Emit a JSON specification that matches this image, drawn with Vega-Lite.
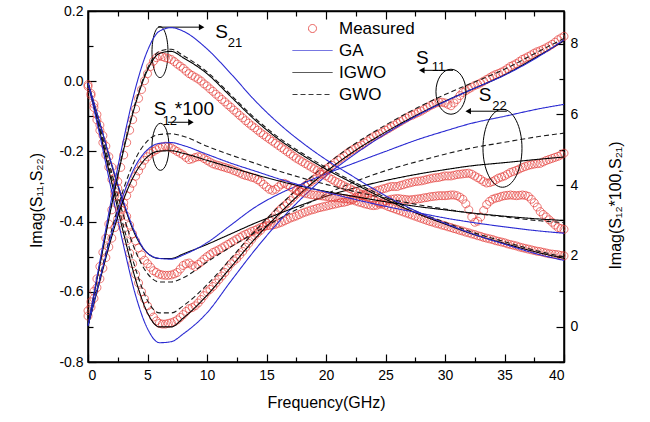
{
"$schema":"https://vega.github.io/schema/vega-lite/v6.json",
"width":476,"height":351,
"autosize":{"type":"none"},
"padding":{"left":88,"top":11,"right":86,"bottom":60},
"background":"white",
"config":{
 "font":"Liberation Sans",
 "view":{"stroke":"black","strokeWidth":1.5},
 "axis":{"labelFont":"Liberation Sans","labelFontSize":14,"labelColor":"black","titleFont":"Liberation Sans","titleFontSize":16,"titleFontWeight":"normal","titleColor":"black","domainColor":"black","domainWidth":1.5,"tickColor":"black","tickWidth":1.2,"grid":false},
 "legend":{"orient":"none","legendX":214,"legendY":7,"symbolSize":400,"labelFontSize":17,"labelFont":"Liberation Sans","labelColor":"black","labelOffset":16,"rowPadding":3,"symbolStrokeWidth":1,"padding":0}
},
"datasets":{
"meas":[
{"f":0,"p":"S11","m":"Measured","v":-0.015},{"f":0.25,"p":"S11","m":"Measured","v":-0.04},{"f":0.5,"p":"S11","m":"Measured","v":-0.075},{"f":0.75,"p":"S11","m":"Measured","v":-0.11},{"f":1,"p":"S11","m":"Measured","v":-0.14},{"f":1.25,"p":"S11","m":"Measured","v":-0.175},{"f":1.5,"p":"S11","m":"Measured","v":-0.21},{"f":1.75,"p":"S11","m":"Measured","v":-0.245},{"f":2,"p":"S11","m":"Measured","v":-0.28},{"f":2.25,"p":"S11","m":"Measured","v":-0.315},{"f":2.5,"p":"S11","m":"Measured","v":-0.35},{"f":2.75,"p":"S11","m":"Measured","v":-0.385},{"f":3,"p":"S11","m":"Measured","v":-0.42},{"f":3.25,"p":"S11","m":"Measured","v":-0.455},{"f":3.5,"p":"S11","m":"Measured","v":-0.49},{"f":3.75,"p":"S11","m":"Measured","v":-0.52},{"f":4,"p":"S11","m":"Measured","v":-0.55},{"f":4.25,"p":"S11","m":"Measured","v":-0.575},{"f":4.5,"p":"S11","m":"Measured","v":-0.6},{"f":4.75,"p":"S11","m":"Measured","v":-0.62},{"f":5,"p":"S11","m":"Measured","v":-0.64},{"f":5.25,"p":"S11","m":"Measured","v":-0.657},{"f":5.5,"p":"S11","m":"Measured","v":-0.672},{"f":5.75,"p":"S11","m":"Measured","v":-0.683},{"f":6,"p":"S11","m":"Measured","v":-0.69},
{"f":6.25,"p":"S11","m":"Measured","v":-0.692},{"f":6.5,"p":"S11","m":"Measured","v":-0.692},{"f":6.75,"p":"S11","m":"Measured","v":-0.69},{"f":7,"p":"S11","m":"Measured","v":-0.688},{"f":7.25,"p":"S11","m":"Measured","v":-0.685},{"f":7.5,"p":"S11","m":"Measured","v":-0.68},{"f":7.75,"p":"S11","m":"Measured","v":-0.673},{"f":8,"p":"S11","m":"Measured","v":-0.665},{"f":8.25,"p":"S11","m":"Measured","v":-0.656},{"f":8.5,"p":"S11","m":"Measured","v":-0.648},{"f":8.75,"p":"S11","m":"Measured","v":-0.645},{"f":9,"p":"S11","m":"Measured","v":-0.64},{"f":9.25,"p":"S11","m":"Measured","v":-0.632},{"f":9.5,"p":"S11","m":"Measured","v":-0.622},{"f":9.75,"p":"S11","m":"Measured","v":-0.611},{"f":10,"p":"S11","m":"Measured","v":-0.6},{"f":10.25,"p":"S11","m":"Measured","v":-0.593},{"f":10.5,"p":"S11","m":"Measured","v":-0.585},{"f":10.75,"p":"S11","m":"Measured","v":-0.575},{"f":11,"p":"S11","m":"Measured","v":-0.565},{"f":11.25,"p":"S11","m":"Measured","v":-0.555},{"f":11.5,"p":"S11","m":"Measured","v":-0.545},{"f":11.75,"p":"S11","m":"Measured","v":-0.532},{"f":12,"p":"S11","m":"Measured","v":-0.52},{"f":12.25,"p":"S11","m":"Measured","v":-0.512},{"f":12.5,"p":"S11","m":"Measured","v":-0.505},{"f":12.75,"p":"S11","m":"Measured","v":-0.495},{"f":13,"p":"S11","m":"Measured","v":-0.485},{"f":13.25,"p":"S11","m":"Measured","v":-0.473},{"f":13.5,"p":"S11","m":"Measured","v":-0.462},{"f":13.75,"p":"S11","m":"Measured","v":-0.451},{"f":14,"p":"S11","m":"Measured","v":-0.44},{"f":14.25,"p":"S11","m":"Measured","v":-0.432},{"f":14.5,"p":"S11","m":"Measured","v":-0.425},{"f":14.75,"p":"S11","m":"Measured","v":-0.415},{"f":15,"p":"S11","m":"Measured","v":-0.405},{"f":15.25,"p":"S11","m":"Measured","v":-0.398},{"f":15.5,"p":"S11","m":"Measured","v":-0.39},{"f":15.75,"p":"S11","m":"Measured","v":-0.38},{"f":16,"p":"S11","m":"Measured","v":-0.37},{"f":16.25,"p":"S11","m":"Measured","v":-0.362},{"f":16.5,"p":"S11","m":"Measured","v":-0.355},{"f":16.75,"p":"S11","m":"Measured","v":-0.348},{"f":17,"p":"S11","m":"Measured","v":-0.34},{"f":17.25,"p":"S11","m":"Measured","v":-0.331},{"f":17.5,"p":"S11","m":"Measured","v":-0.322},{"f":17.75,"p":"S11","m":"Measured","v":-0.313},{"f":18,"p":"S11","m":"Measured","v":-0.305},{"f":18.25,"p":"S11","m":"Measured","v":-0.298},{"f":18.5,"p":"S11","m":"Measured","v":-0.292},{"f":18.75,"p":"S11","m":"Measured","v":-0.286},{"f":19,"p":"S11","m":"Measured","v":-0.28},{"f":19.25,"p":"S11","m":"Measured","v":-0.272},{"f":19.5,"p":"S11","m":"Measured","v":-0.265},{"f":19.75,"p":"S11","m":"Measured","v":-0.257},{"f":20,"p":"S11","m":"Measured","v":-0.25},{"f":20.25,"p":"S11","m":"Measured","v":-0.245},{"f":20.5,"p":"S11","m":"Measured","v":-0.24},{"f":20.75,"p":"S11","m":"Measured","v":-0.232},{"f":21,"p":"S11","m":"Measured","v":-0.225},{"f":21.25,"p":"S11","m":"Measured","v":-0.219},{"f":21.5,"p":"S11","m":"Measured","v":-0.213},{"f":21.75,"p":"S11","m":"Measured","v":-0.206},{"f":22,"p":"S11","m":"Measured","v":-0.2},{"f":22.25,"p":"S11","m":"Measured","v":-0.195},{"f":22.5,"p":"S11","m":"Measured","v":-0.19},{"f":22.75,"p":"S11","m":"Measured","v":-0.186},{"f":23,"p":"S11","m":"Measured","v":-0.182},{"f":23.25,"p":"S11","m":"Measured","v":-0.176},{"f":23.5,"p":"S11","m":"Measured","v":-0.17},{"f":23.75,"p":"S11","m":"Measured","v":-0.164},{"f":24,"p":"S11","m":"Measured","v":-0.158},{"f":24.25,"p":"S11","m":"Measured","v":-0.154},{"f":24.5,"p":"S11","m":"Measured","v":-0.15},{"f":24.75,"p":"S11","m":"Measured","v":-0.145},{"f":25,"p":"S11","m":"Measured","v":-0.14},{"f":25.25,"p":"S11","m":"Measured","v":-0.135},{"f":25.5,"p":"S11","m":"Measured","v":-0.13},{"f":25.75,"p":"S11","m":"Measured","v":-0.125},{"f":26,"p":"S11","m":"Measured","v":-0.12},{"f":26.25,"p":"S11","m":"Measured","v":-0.115},{"f":26.5,"p":"S11","m":"Measured","v":-0.11},{"f":26.75,"p":"S11","m":"Measured","v":-0.105},{"f":27,"p":"S11","m":"Measured","v":-0.1},{"f":27.25,"p":"S11","m":"Measured","v":-0.097},{"f":27.5,"p":"S11","m":"Measured","v":-0.093},{"f":27.75,"p":"S11","m":"Measured","v":-0.089},{"f":28,"p":"S11","m":"Measured","v":-0.085},{"f":28.25,"p":"S11","m":"Measured","v":-0.08},{"f":28.5,"p":"S11","m":"Measured","v":-0.075},{"f":28.75,"p":"S11","m":"Measured","v":-0.07},{"f":29,"p":"S11","m":"Measured","v":-0.066},{"f":29.25,"p":"S11","m":"Measured","v":-0.062},{"f":29.5,"p":"S11","m":"Measured","v":-0.06},{"f":29.75,"p":"S11","m":"Measured","v":-0.06},{"f":30,"p":"S11","m":"Measured","v":-0.062},{"f":30.25,"p":"S11","m":"Measured","v":-0.066},{"f":30.5,"p":"S11","m":"Measured","v":-0.07},{"f":30.75,"p":"S11","m":"Measured","v":-0.062},{"f":31,"p":"S11","m":"Measured","v":-0.052},{"f":31.25,"p":"S11","m":"Measured","v":-0.041},{"f":31.5,"p":"S11","m":"Measured","v":-0.032},{"f":31.75,"p":"S11","m":"Measured","v":-0.027},{"f":32,"p":"S11","m":"Measured","v":-0.022},{"f":32.25,"p":"S11","m":"Measured","v":-0.017},{"f":32.5,"p":"S11","m":"Measured","v":-0.012},{"f":32.75,"p":"S11","m":"Measured","v":-0.009},{"f":33,"p":"S11","m":"Measured","v":-0.005},{"f":33.25,"p":"S11","m":"Measured","v":0.0},{"f":33.5,"p":"S11","m":"Measured","v":0.005},{"f":33.75,"p":"S11","m":"Measured","v":0.01},{"f":34,"p":"S11","m":"Measured","v":0.015},{"f":34.25,"p":"S11","m":"Measured","v":0.019},{"f":34.5,"p":"S11","m":"Measured","v":0.022},{"f":34.75,"p":"S11","m":"Measured","v":0.026},{"f":35,"p":"S11","m":"Measured","v":0.03},{"f":35.25,"p":"S11","m":"Measured","v":0.036},{"f":35.5,"p":"S11","m":"Measured","v":0.042},{"f":35.75,"p":"S11","m":"Measured","v":0.046},{"f":36,"p":"S11","m":"Measured","v":0.05},{"f":36.25,"p":"S11","m":"Measured","v":0.056},{"f":36.5,"p":"S11","m":"Measured","v":0.062},{"f":36.75,"p":"S11","m":"Measured","v":0.066},{"f":37,"p":"S11","m":"Measured","v":0.07},{"f":37.25,"p":"S11","m":"Measured","v":0.075},{"f":37.5,"p":"S11","m":"Measured","v":0.08},{"f":37.75,"p":"S11","m":"Measured","v":0.084},{"f":38,"p":"S11","m":"Measured","v":0.087},{"f":38.25,"p":"S11","m":"Measured","v":0.091},{"f":38.5,"p":"S11","m":"Measured","v":0.095},{"f":38.75,"p":"S11","m":"Measured","v":0.1},{"f":39,"p":"S11","m":"Measured","v":0.105},{"f":39.25,"p":"S11","m":"Measured","v":0.111},{"f":39.5,"p":"S11","m":"Measured","v":0.118},{"f":39.75,"p":"S11","m":"Measured","v":0.123},{"f":40,"p":"S11","m":"Measured","v":0.128},
{"f":0,"p":"S22","m":"Measured","v":-0.01},{"f":0.25,"p":"S22","m":"Measured","v":-0.035},{"f":0.5,"p":"S22","m":"Measured","v":-0.065},{"f":0.75,"p":"S22","m":"Measured","v":-0.095},{"f":1,"p":"S22","m":"Measured","v":-0.125},{"f":1.25,"p":"S22","m":"Measured","v":-0.155},{"f":1.5,"p":"S22","m":"Measured","v":-0.185},{"f":1.75,"p":"S22","m":"Measured","v":-0.215},{"f":2,"p":"S22","m":"Measured","v":-0.245},{"f":2.25,"p":"S22","m":"Measured","v":-0.275},{"f":2.5,"p":"S22","m":"Measured","v":-0.305},{"f":2.75,"p":"S22","m":"Measured","v":-0.33},{"f":3,"p":"S22","m":"Measured","v":-0.36},{"f":3.25,"p":"S22","m":"Measured","v":-0.385},{"f":3.5,"p":"S22","m":"Measured","v":-0.41},{"f":3.75,"p":"S22","m":"Measured","v":-0.435},{"f":4,"p":"S22","m":"Measured","v":-0.455},{"f":4.25,"p":"S22","m":"Measured","v":-0.475},{"f":4.5,"p":"S22","m":"Measured","v":-0.495},{"f":4.75,"p":"S22","m":"Measured","v":-0.51},{"f":5,"p":"S22","m":"Measured","v":-0.52},{"f":5.25,"p":"S22","m":"Measured","v":-0.53},{"f":5.5,"p":"S22","m":"Measured","v":-0.54},{"f":5.75,"p":"S22","m":"Measured","v":-0.545},{"f":6,"p":"S22","m":"Measured","v":-0.55},
{"f":6.25,"p":"S22","m":"Measured","v":-0.552},{"f":6.5,"p":"S22","m":"Measured","v":-0.553},{"f":6.75,"p":"S22","m":"Measured","v":-0.553},{"f":7,"p":"S22","m":"Measured","v":-0.552},{"f":7.25,"p":"S22","m":"Measured","v":-0.549},{"f":7.5,"p":"S22","m":"Measured","v":-0.545},{"f":7.75,"p":"S22","m":"Measured","v":-0.535},{"f":8,"p":"S22","m":"Measured","v":-0.525},{"f":8.25,"p":"S22","m":"Measured","v":-0.52},{"f":8.5,"p":"S22","m":"Measured","v":-0.518},{"f":8.75,"p":"S22","m":"Measured","v":-0.524},{"f":9,"p":"S22","m":"Measured","v":-0.528},{"f":9.25,"p":"S22","m":"Measured","v":-0.522},{"f":9.5,"p":"S22","m":"Measured","v":-0.515},{"f":9.75,"p":"S22","m":"Measured","v":-0.507},{"f":10,"p":"S22","m":"Measured","v":-0.5},{"f":10.25,"p":"S22","m":"Measured","v":-0.494},{"f":10.5,"p":"S22","m":"Measured","v":-0.488},{"f":10.75,"p":"S22","m":"Measured","v":-0.484},{"f":11,"p":"S22","m":"Measured","v":-0.48},{"f":11.25,"p":"S22","m":"Measured","v":-0.475},{"f":11.5,"p":"S22","m":"Measured","v":-0.47},{"f":11.75,"p":"S22","m":"Measured","v":-0.465},{"f":12,"p":"S22","m":"Measured","v":-0.46},{"f":12.25,"p":"S22","m":"Measured","v":-0.455},{"f":12.5,"p":"S22","m":"Measured","v":-0.45},{"f":12.75,"p":"S22","m":"Measured","v":-0.445},{"f":13,"p":"S22","m":"Measured","v":-0.44},{"f":13.25,"p":"S22","m":"Measured","v":-0.436},{"f":13.5,"p":"S22","m":"Measured","v":-0.432},{"f":13.75,"p":"S22","m":"Measured","v":-0.428},{"f":14,"p":"S22","m":"Measured","v":-0.425},{"f":14.25,"p":"S22","m":"Measured","v":-0.421},{"f":14.5,"p":"S22","m":"Measured","v":-0.417},{"f":14.75,"p":"S22","m":"Measured","v":-0.414},{"f":15,"p":"S22","m":"Measured","v":-0.412},{"f":15.25,"p":"S22","m":"Measured","v":-0.411},{"f":15.5,"p":"S22","m":"Measured","v":-0.41},{"f":15.75,"p":"S22","m":"Measured","v":-0.408},{"f":16,"p":"S22","m":"Measured","v":-0.405},{"f":16.25,"p":"S22","m":"Measured","v":-0.402},{"f":16.5,"p":"S22","m":"Measured","v":-0.398},{"f":16.75,"p":"S22","m":"Measured","v":-0.394},{"f":17,"p":"S22","m":"Measured","v":-0.39},{"f":17.25,"p":"S22","m":"Measured","v":-0.387},{"f":17.5,"p":"S22","m":"Measured","v":-0.384},{"f":17.75,"p":"S22","m":"Measured","v":-0.38},{"f":18,"p":"S22","m":"Measured","v":-0.376},{"f":18.25,"p":"S22","m":"Measured","v":-0.373},{"f":18.5,"p":"S22","m":"Measured","v":-0.37},{"f":18.75,"p":"S22","m":"Measured","v":-0.367},{"f":19,"p":"S22","m":"Measured","v":-0.365},{"f":19.25,"p":"S22","m":"Measured","v":-0.362},{"f":19.5,"p":"S22","m":"Measured","v":-0.36},{"f":19.75,"p":"S22","m":"Measured","v":-0.358},{"f":20,"p":"S22","m":"Measured","v":-0.356},{"f":20.25,"p":"S22","m":"Measured","v":-0.354},{"f":20.5,"p":"S22","m":"Measured","v":-0.352},{"f":20.75,"p":"S22","m":"Measured","v":-0.35},{"f":21,"p":"S22","m":"Measured","v":-0.348},{"f":21.25,"p":"S22","m":"Measured","v":-0.346},{"f":21.5,"p":"S22","m":"Measured","v":-0.345},{"f":21.75,"p":"S22","m":"Measured","v":-0.343},{"f":22,"p":"S22","m":"Measured","v":-0.34},{"f":22.25,"p":"S22","m":"Measured","v":-0.336},{"f":22.5,"p":"S22","m":"Measured","v":-0.332},{"f":22.75,"p":"S22","m":"Measured","v":-0.329},{"f":23,"p":"S22","m":"Measured","v":-0.326},{"f":23.25,"p":"S22","m":"Measured","v":-0.323},{"f":23.5,"p":"S22","m":"Measured","v":-0.32},{"f":23.75,"p":"S22","m":"Measured","v":-0.317},{"f":24,"p":"S22","m":"Measured","v":-0.315},{"f":24.25,"p":"S22","m":"Measured","v":-0.312},{"f":24.5,"p":"S22","m":"Measured","v":-0.31},{"f":24.75,"p":"S22","m":"Measured","v":-0.307},{"f":25,"p":"S22","m":"Measured","v":-0.305},{"f":25.25,"p":"S22","m":"Measured","v":-0.302},{"f":25.5,"p":"S22","m":"Measured","v":-0.3},{"f":25.75,"p":"S22","m":"Measured","v":-0.3},{"f":26,"p":"S22","m":"Measured","v":-0.3},{"f":26.25,"p":"S22","m":"Measured","v":-0.297},{"f":26.5,"p":"S22","m":"Measured","v":-0.295},{"f":26.75,"p":"S22","m":"Measured","v":-0.292},{"f":27,"p":"S22","m":"Measured","v":-0.29},{"f":27.25,"p":"S22","m":"Measured","v":-0.288},{"f":27.5,"p":"S22","m":"Measured","v":-0.286},{"f":27.75,"p":"S22","m":"Measured","v":-0.285},{"f":28,"p":"S22","m":"Measured","v":-0.284},{"f":28.25,"p":"S22","m":"Measured","v":-0.282},{"f":28.5,"p":"S22","m":"Measured","v":-0.28},{"f":28.75,"p":"S22","m":"Measured","v":-0.278},{"f":29,"p":"S22","m":"Measured","v":-0.276},{"f":29.25,"p":"S22","m":"Measured","v":-0.275},{"f":29.5,"p":"S22","m":"Measured","v":-0.274},{"f":29.75,"p":"S22","m":"Measured","v":-0.272},{"f":30,"p":"S22","m":"Measured","v":-0.27},{"f":30.25,"p":"S22","m":"Measured","v":-0.27},{"f":30.5,"p":"S22","m":"Measured","v":-0.27},{"f":30.75,"p":"S22","m":"Measured","v":-0.268},{"f":31,"p":"S22","m":"Measured","v":-0.266},{"f":31.25,"p":"S22","m":"Measured","v":-0.265},{"f":31.5,"p":"S22","m":"Measured","v":-0.264},{"f":31.75,"p":"S22","m":"Measured","v":-0.263},{"f":32,"p":"S22","m":"Measured","v":-0.262},{"f":32.25,"p":"S22","m":"Measured","v":-0.265},{"f":32.5,"p":"S22","m":"Measured","v":-0.27},{"f":32.75,"p":"S22","m":"Measured","v":-0.275},{"f":33,"p":"S22","m":"Measured","v":-0.28},{"f":33.25,"p":"S22","m":"Measured","v":-0.286},{"f":33.5,"p":"S22","m":"Measured","v":-0.29},{"f":33.75,"p":"S22","m":"Measured","v":-0.289},{"f":34,"p":"S22","m":"Measured","v":-0.286},{"f":34.25,"p":"S22","m":"Measured","v":-0.281},{"f":34.5,"p":"S22","m":"Measured","v":-0.276},{"f":34.75,"p":"S22","m":"Measured","v":-0.273},{"f":35,"p":"S22","m":"Measured","v":-0.27},{"f":35.25,"p":"S22","m":"Measured","v":-0.265},{"f":35.5,"p":"S22","m":"Measured","v":-0.26},{"f":35.75,"p":"S22","m":"Measured","v":-0.257},{"f":36,"p":"S22","m":"Measured","v":-0.254},{"f":36.25,"p":"S22","m":"Measured","v":-0.25},{"f":36.5,"p":"S22","m":"Measured","v":-0.246},{"f":36.75,"p":"S22","m":"Measured","v":-0.243},{"f":37,"p":"S22","m":"Measured","v":-0.24},{"f":37.25,"p":"S22","m":"Measured","v":-0.238},{"f":37.5,"p":"S22","m":"Measured","v":-0.236},{"f":37.75,"p":"S22","m":"Measured","v":-0.235},{"f":38,"p":"S22","m":"Measured","v":-0.234},{"f":38.25,"p":"S22","m":"Measured","v":-0.23},{"f":38.5,"p":"S22","m":"Measured","v":-0.226},{"f":38.75,"p":"S22","m":"Measured","v":-0.223},{"f":39,"p":"S22","m":"Measured","v":-0.22},{"f":39.25,"p":"S22","m":"Measured","v":-0.217},{"f":39.5,"p":"S22","m":"Measured","v":-0.214},{"f":39.75,"p":"S22","m":"Measured","v":-0.21},{"f":40,"p":"S22","m":"Measured","v":-0.205},
{"f":0,"p":"S21","m":"Measured","v":0.45},{"f":0.25,"p":"S21","m":"Measured","v":0.7},{"f":0.5,"p":"S21","m":"Measured","v":1.0},{"f":0.75,"p":"S21","m":"Measured","v":1.35},{"f":1,"p":"S21","m":"Measured","v":1.7},{"f":1.25,"p":"S21","m":"Measured","v":2.1},{"f":1.5,"p":"S21","m":"Measured","v":2.5},{"f":1.75,"p":"S21","m":"Measured","v":2.9},{"f":2,"p":"S21","m":"Measured","v":3.3},{"f":2.25,"p":"S21","m":"Measured","v":3.7},{"f":2.5,"p":"S21","m":"Measured","v":4.1},{"f":2.75,"p":"S21","m":"Measured","v":4.5},{"f":3,"p":"S21","m":"Measured","v":4.85},{"f":3.25,"p":"S21","m":"Measured","v":5.2},{"f":3.5,"p":"S21","m":"Measured","v":5.55},{"f":3.75,"p":"S21","m":"Measured","v":5.85},{"f":4,"p":"S21","m":"Measured","v":6.15},{"f":4.25,"p":"S21","m":"Measured","v":6.45},{"f":4.5,"p":"S21","m":"Measured","v":6.7},{"f":4.75,"p":"S21","m":"Measured","v":6.95},{"f":5,"p":"S21","m":"Measured","v":7.15},{"f":5.25,"p":"S21","m":"Measured","v":7.35},{"f":5.5,"p":"S21","m":"Measured","v":7.5},{"f":5.75,"p":"S21","m":"Measured","v":7.6},{"f":6,"p":"S21","m":"Measured","v":7.65},
{"f":6.25,"p":"S21","m":"Measured","v":7.63},{"f":6.5,"p":"S21","m":"Measured","v":7.6},{"f":6.75,"p":"S21","m":"Measured","v":7.58},{"f":7,"p":"S21","m":"Measured","v":7.55},{"f":7.25,"p":"S21","m":"Measured","v":7.49},{"f":7.5,"p":"S21","m":"Measured","v":7.42},{"f":7.75,"p":"S21","m":"Measured","v":7.36},{"f":8,"p":"S21","m":"Measured","v":7.3},{"f":8.25,"p":"S21","m":"Measured","v":7.22},{"f":8.5,"p":"S21","m":"Measured","v":7.15},{"f":8.75,"p":"S21","m":"Measured","v":7.1},{"f":9,"p":"S21","m":"Measured","v":7.05},{"f":9.25,"p":"S21","m":"Measured","v":7.0},{"f":9.5,"p":"S21","m":"Measured","v":6.94},{"f":9.75,"p":"S21","m":"Measured","v":6.86},{"f":10,"p":"S21","m":"Measured","v":6.8},{"f":10.25,"p":"S21","m":"Measured","v":6.72},{"f":10.5,"p":"S21","m":"Measured","v":6.65},{"f":10.75,"p":"S21","m":"Measured","v":6.57},{"f":11,"p":"S21","m":"Measured","v":6.5},{"f":11.25,"p":"S21","m":"Measured","v":6.42},{"f":11.5,"p":"S21","m":"Measured","v":6.35},{"f":11.75,"p":"S21","m":"Measured","v":6.27},{"f":12,"p":"S21","m":"Measured","v":6.2},{"f":12.25,"p":"S21","m":"Measured","v":6.12},{"f":12.5,"p":"S21","m":"Measured","v":6.05},{"f":12.75,"p":"S21","m":"Measured","v":5.97},{"f":13,"p":"S21","m":"Measured","v":5.9},{"f":13.25,"p":"S21","m":"Measured","v":5.82},{"f":13.5,"p":"S21","m":"Measured","v":5.75},{"f":13.75,"p":"S21","m":"Measured","v":5.68},{"f":14,"p":"S21","m":"Measured","v":5.62},{"f":14.25,"p":"S21","m":"Measured","v":5.55},{"f":14.5,"p":"S21","m":"Measured","v":5.48},{"f":14.75,"p":"S21","m":"Measured","v":5.42},{"f":15,"p":"S21","m":"Measured","v":5.36},{"f":15.25,"p":"S21","m":"Measured","v":5.3},{"f":15.5,"p":"S21","m":"Measured","v":5.24},{"f":15.75,"p":"S21","m":"Measured","v":5.18},{"f":16,"p":"S21","m":"Measured","v":5.12},{"f":16.25,"p":"S21","m":"Measured","v":5.06},{"f":16.5,"p":"S21","m":"Measured","v":5.0},{"f":16.75,"p":"S21","m":"Measured","v":4.94},{"f":17,"p":"S21","m":"Measured","v":4.88},{"f":17.25,"p":"S21","m":"Measured","v":4.82},{"f":17.5,"p":"S21","m":"Measured","v":4.76},{"f":17.75,"p":"S21","m":"Measured","v":4.71},{"f":18,"p":"S21","m":"Measured","v":4.66},{"f":18.25,"p":"S21","m":"Measured","v":4.61},{"f":18.5,"p":"S21","m":"Measured","v":4.56},{"f":18.75,"p":"S21","m":"Measured","v":4.51},{"f":19,"p":"S21","m":"Measured","v":4.46},{"f":19.25,"p":"S21","m":"Measured","v":4.41},{"f":19.5,"p":"S21","m":"Measured","v":4.36},{"f":19.75,"p":"S21","m":"Measured","v":4.31},{"f":20,"p":"S21","m":"Measured","v":4.26},{"f":20.25,"p":"S21","m":"Measured","v":4.21},{"f":20.5,"p":"S21","m":"Measured","v":4.16},{"f":20.75,"p":"S21","m":"Measured","v":4.11},{"f":21,"p":"S21","m":"Measured","v":4.07},{"f":21.25,"p":"S21","m":"Measured","v":4.02},{"f":21.5,"p":"S21","m":"Measured","v":3.98},{"f":21.75,"p":"S21","m":"Measured","v":3.94},{"f":22,"p":"S21","m":"Measured","v":3.9},{"f":22.25,"p":"S21","m":"Measured","v":3.86},{"f":22.5,"p":"S21","m":"Measured","v":3.82},{"f":22.75,"p":"S21","m":"Measured","v":3.78},{"f":23,"p":"S21","m":"Measured","v":3.74},{"f":23.25,"p":"S21","m":"Measured","v":3.7},{"f":23.5,"p":"S21","m":"Measured","v":3.66},{"f":23.75,"p":"S21","m":"Measured","v":3.62},{"f":24,"p":"S21","m":"Measured","v":3.58},{"f":24.25,"p":"S21","m":"Measured","v":3.54},{"f":24.5,"p":"S21","m":"Measured","v":3.5},{"f":24.75,"p":"S21","m":"Measured","v":3.46},{"f":25,"p":"S21","m":"Measured","v":3.43},{"f":25.25,"p":"S21","m":"Measured","v":3.39},{"f":25.5,"p":"S21","m":"Measured","v":3.36},{"f":25.75,"p":"S21","m":"Measured","v":3.33},{"f":26,"p":"S21","m":"Measured","v":3.3},{"f":26.25,"p":"S21","m":"Measured","v":3.27},{"f":26.5,"p":"S21","m":"Measured","v":3.24},{"f":26.75,"p":"S21","m":"Measured","v":3.21},{"f":27,"p":"S21","m":"Measured","v":3.18},{"f":27.25,"p":"S21","m":"Measured","v":3.15},{"f":27.5,"p":"S21","m":"Measured","v":3.12},{"f":27.75,"p":"S21","m":"Measured","v":3.09},{"f":28,"p":"S21","m":"Measured","v":3.06},{"f":28.25,"p":"S21","m":"Measured","v":3.03},{"f":28.5,"p":"S21","m":"Measured","v":3.0},{"f":28.75,"p":"S21","m":"Measured","v":2.97},{"f":29,"p":"S21","m":"Measured","v":2.95},{"f":29.25,"p":"S21","m":"Measured","v":2.92},{"f":29.5,"p":"S21","m":"Measured","v":2.9},{"f":29.75,"p":"S21","m":"Measured","v":2.87},{"f":30,"p":"S21","m":"Measured","v":2.85},{"f":30.25,"p":"S21","m":"Measured","v":2.82},{"f":30.5,"p":"S21","m":"Measured","v":2.8},{"f":30.75,"p":"S21","m":"Measured","v":2.77},{"f":31,"p":"S21","m":"Measured","v":2.75},{"f":31.25,"p":"S21","m":"Measured","v":2.72},{"f":31.5,"p":"S21","m":"Measured","v":2.7},{"f":31.75,"p":"S21","m":"Measured","v":2.67},{"f":32,"p":"S21","m":"Measured","v":2.65},{"f":32.25,"p":"S21","m":"Measured","v":2.62},{"f":32.5,"p":"S21","m":"Measured","v":2.6},{"f":32.75,"p":"S21","m":"Measured","v":2.57},{"f":33,"p":"S21","m":"Measured","v":2.55},{"f":33.25,"p":"S21","m":"Measured","v":2.52},{"f":33.5,"p":"S21","m":"Measured","v":2.5},{"f":33.75,"p":"S21","m":"Measured","v":2.48},{"f":34,"p":"S21","m":"Measured","v":2.46},{"f":34.25,"p":"S21","m":"Measured","v":2.43},{"f":34.5,"p":"S21","m":"Measured","v":2.41},{"f":34.75,"p":"S21","m":"Measured","v":2.39},{"f":35,"p":"S21","m":"Measured","v":2.37},{"f":35.25,"p":"S21","m":"Measured","v":2.34},{"f":35.5,"p":"S21","m":"Measured","v":2.32},{"f":35.75,"p":"S21","m":"Measured","v":2.3},{"f":36,"p":"S21","m":"Measured","v":2.28},{"f":36.25,"p":"S21","m":"Measured","v":2.25},{"f":36.5,"p":"S21","m":"Measured","v":2.23},{"f":36.75,"p":"S21","m":"Measured","v":2.21},{"f":37,"p":"S21","m":"Measured","v":2.19},{"f":37.25,"p":"S21","m":"Measured","v":2.17},{"f":37.5,"p":"S21","m":"Measured","v":2.15},{"f":37.75,"p":"S21","m":"Measured","v":2.13},{"f":38,"p":"S21","m":"Measured","v":2.12},{"f":38.25,"p":"S21","m":"Measured","v":2.1},{"f":38.5,"p":"S21","m":"Measured","v":2.08},{"f":38.75,"p":"S21","m":"Measured","v":2.06},{"f":39,"p":"S21","m":"Measured","v":2.05},{"f":39.25,"p":"S21","m":"Measured","v":2.04},{"f":39.5,"p":"S21","m":"Measured","v":2.03},{"f":39.75,"p":"S21","m":"Measured","v":2.01},{"f":40,"p":"S21","m":"Measured","v":2.0},
{"f":0,"p":"S12","m":"Measured","v":0.3},{"f":0.25,"p":"S12","m":"Measured","v":0.55},{"f":0.5,"p":"S12","m":"Measured","v":0.8},{"f":0.75,"p":"S12","m":"Measured","v":1.1},{"f":1,"p":"S12","m":"Measured","v":1.35},{"f":1.25,"p":"S12","m":"Measured","v":1.65},{"f":1.5,"p":"S12","m":"Measured","v":1.95},{"f":1.75,"p":"S12","m":"Measured","v":2.25},{"f":2,"p":"S12","m":"Measured","v":2.5},{"f":2.25,"p":"S12","m":"Measured","v":2.8},{"f":2.5,"p":"S12","m":"Measured","v":3.05},{"f":2.75,"p":"S12","m":"Measured","v":3.3},{"f":3,"p":"S12","m":"Measured","v":3.5},{"f":3.25,"p":"S12","m":"Measured","v":3.7},{"f":3.5,"p":"S12","m":"Measured","v":3.9},{"f":3.75,"p":"S12","m":"Measured","v":4.05},{"f":4,"p":"S12","m":"Measured","v":4.25},{"f":4.25,"p":"S12","m":"Measured","v":4.4},{"f":4.5,"p":"S12","m":"Measured","v":4.55},{"f":4.75,"p":"S12","m":"Measured","v":4.7},{"f":5,"p":"S12","m":"Measured","v":4.8},{"f":5.25,"p":"S12","m":"Measured","v":4.9},{"f":5.5,"p":"S12","m":"Measured","v":4.95},{"f":5.75,"p":"S12","m":"Measured","v":5.0},{"f":6,"p":"S12","m":"Measured","v":5.05},
{"f":6.25,"p":"S12","m":"Measured","v":5.08},{"f":6.5,"p":"S12","m":"Measured","v":5.1},{"f":6.75,"p":"S12","m":"Measured","v":5.08},{"f":7,"p":"S12","m":"Measured","v":5.05},{"f":7.25,"p":"S12","m":"Measured","v":5.0},{"f":7.5,"p":"S12","m":"Measured","v":4.95},{"f":7.75,"p":"S12","m":"Measured","v":4.9},{"f":8,"p":"S12","m":"Measured","v":4.85},{"f":8.25,"p":"S12","m":"Measured","v":4.78},{"f":8.5,"p":"S12","m":"Measured","v":4.72},{"f":8.75,"p":"S12","m":"Measured","v":4.74},{"f":9,"p":"S12","m":"Measured","v":4.78},{"f":9.25,"p":"S12","m":"Measured","v":4.8},{"f":9.5,"p":"S12","m":"Measured","v":4.8},{"f":9.75,"p":"S12","m":"Measured","v":4.75},{"f":10,"p":"S12","m":"Measured","v":4.7},{"f":10.25,"p":"S12","m":"Measured","v":4.65},{"f":10.5,"p":"S12","m":"Measured","v":4.6},{"f":10.75,"p":"S12","m":"Measured","v":4.57},{"f":11,"p":"S12","m":"Measured","v":4.55},{"f":11.25,"p":"S12","m":"Measured","v":4.52},{"f":11.5,"p":"S12","m":"Measured","v":4.5},{"f":11.75,"p":"S12","m":"Measured","v":4.47},{"f":12,"p":"S12","m":"Measured","v":4.45},{"f":12.25,"p":"S12","m":"Measured","v":4.41},{"f":12.5,"p":"S12","m":"Measured","v":4.38},{"f":12.75,"p":"S12","m":"Measured","v":4.34},{"f":13,"p":"S12","m":"Measured","v":4.3},{"f":13.25,"p":"S12","m":"Measured","v":4.27},{"f":13.5,"p":"S12","m":"Measured","v":4.25},{"f":13.75,"p":"S12","m":"Measured","v":4.22},{"f":14,"p":"S12","m":"Measured","v":4.2},{"f":14.25,"p":"S12","m":"Measured","v":4.15},{"f":14.5,"p":"S12","m":"Measured","v":4.1},{"f":14.75,"p":"S12","m":"Measured","v":4.02},{"f":15,"p":"S12","m":"Measured","v":3.95},{"f":15.25,"p":"S12","m":"Measured","v":3.88},{"f":15.5,"p":"S12","m":"Measured","v":3.85},{"f":15.75,"p":"S12","m":"Measured","v":3.88},{"f":16,"p":"S12","m":"Measured","v":3.95},{"f":16.25,"p":"S12","m":"Measured","v":4.02},{"f":16.5,"p":"S12","m":"Measured","v":4.05},{"f":16.75,"p":"S12","m":"Measured","v":4.01},{"f":17,"p":"S12","m":"Measured","v":3.95},{"f":17.25,"p":"S12","m":"Measured","v":3.9},{"f":17.5,"p":"S12","m":"Measured","v":3.85},{"f":17.75,"p":"S12","m":"Measured","v":3.82},{"f":18,"p":"S12","m":"Measured","v":3.8},{"f":18.25,"p":"S12","m":"Measured","v":3.77},{"f":18.5,"p":"S12","m":"Measured","v":3.75},{"f":18.75,"p":"S12","m":"Measured","v":3.73},{"f":19,"p":"S12","m":"Measured","v":3.72},{"f":19.25,"p":"S12","m":"Measured","v":3.71},{"f":19.5,"p":"S12","m":"Measured","v":3.7},{"f":19.75,"p":"S12","m":"Measured","v":3.69},{"f":20,"p":"S12","m":"Measured","v":3.68},{"f":20.25,"p":"S12","m":"Measured","v":3.67},{"f":20.5,"p":"S12","m":"Measured","v":3.66},{"f":20.75,"p":"S12","m":"Measured","v":3.65},{"f":21,"p":"S12","m":"Measured","v":3.64},{"f":21.25,"p":"S12","m":"Measured","v":3.63},{"f":21.5,"p":"S12","m":"Measured","v":3.62},{"f":21.75,"p":"S12","m":"Measured","v":3.61},{"f":22,"p":"S12","m":"Measured","v":3.6},{"f":22.25,"p":"S12","m":"Measured","v":3.58},{"f":22.5,"p":"S12","m":"Measured","v":3.55},{"f":22.75,"p":"S12","m":"Measured","v":3.52},{"f":23,"p":"S12","m":"Measured","v":3.5},{"f":23.25,"p":"S12","m":"Measured","v":3.47},{"f":23.5,"p":"S12","m":"Measured","v":3.45},{"f":23.75,"p":"S12","m":"Measured","v":3.43},{"f":24,"p":"S12","m":"Measured","v":3.42},{"f":24.25,"p":"S12","m":"Measured","v":3.43},{"f":24.5,"p":"S12","m":"Measured","v":3.46},{"f":24.75,"p":"S12","m":"Measured","v":3.5},{"f":25,"p":"S12","m":"Measured","v":3.55},{"f":25.25,"p":"S12","m":"Measured","v":3.58},{"f":25.5,"p":"S12","m":"Measured","v":3.6},{"f":25.75,"p":"S12","m":"Measured","v":3.61},{"f":26,"p":"S12","m":"Measured","v":3.62},{"f":26.25,"p":"S12","m":"Measured","v":3.61},{"f":26.5,"p":"S12","m":"Measured","v":3.6},{"f":26.75,"p":"S12","m":"Measured","v":3.59},{"f":27,"p":"S12","m":"Measured","v":3.58},{"f":27.25,"p":"S12","m":"Measured","v":3.59},{"f":27.5,"p":"S12","m":"Measured","v":3.6},{"f":27.75,"p":"S12","m":"Measured","v":3.61},{"f":28,"p":"S12","m":"Measured","v":3.62},{"f":28.25,"p":"S12","m":"Measured","v":3.64},{"f":28.5,"p":"S12","m":"Measured","v":3.65},{"f":28.75,"p":"S12","m":"Measured","v":3.67},{"f":29,"p":"S12","m":"Measured","v":3.68},{"f":29.25,"p":"S12","m":"Measured","v":3.69},{"f":29.5,"p":"S12","m":"Measured","v":3.7},{"f":29.75,"p":"S12","m":"Measured","v":3.7},{"f":30,"p":"S12","m":"Measured","v":3.7},{"f":30.25,"p":"S12","m":"Measured","v":3.71},{"f":30.5,"p":"S12","m":"Measured","v":3.72},{"f":30.75,"p":"S12","m":"Measured","v":3.72},{"f":31,"p":"S12","m":"Measured","v":3.7},{"f":31.25,"p":"S12","m":"Measured","v":3.66},{"f":31.5,"p":"S12","m":"Measured","v":3.6},{"f":31.75,"p":"S12","m":"Measured","v":3.47},{"f":32,"p":"S12","m":"Measured","v":3.3},{"f":32.25,"p":"S12","m":"Measured","v":3.1},{"f":32.5,"p":"S12","m":"Measured","v":2.95},{"f":32.75,"p":"S12","m":"Measured","v":2.98},{"f":33,"p":"S12","m":"Measured","v":3.1},{"f":33.25,"p":"S12","m":"Measured","v":3.28},{"f":33.5,"p":"S12","m":"Measured","v":3.45},{"f":33.75,"p":"S12","m":"Measured","v":3.54},{"f":34,"p":"S12","m":"Measured","v":3.6},{"f":34.25,"p":"S12","m":"Measured","v":3.63},{"f":34.5,"p":"S12","m":"Measured","v":3.65},{"f":34.75,"p":"S12","m":"Measured","v":3.68},{"f":35,"p":"S12","m":"Measured","v":3.7},{"f":35.25,"p":"S12","m":"Measured","v":3.71},{"f":35.5,"p":"S12","m":"Measured","v":3.72},{"f":35.75,"p":"S12","m":"Measured","v":3.71},{"f":36,"p":"S12","m":"Measured","v":3.7},{"f":36.25,"p":"S12","m":"Measured","v":3.71},{"f":36.5,"p":"S12","m":"Measured","v":3.72},{"f":36.75,"p":"S12","m":"Measured","v":3.71},{"f":37,"p":"S12","m":"Measured","v":3.68},{"f":37.25,"p":"S12","m":"Measured","v":3.6},{"f":37.5,"p":"S12","m":"Measured","v":3.5},{"f":37.75,"p":"S12","m":"Measured","v":3.38},{"f":38,"p":"S12","m":"Measured","v":3.25},{"f":38.25,"p":"S12","m":"Measured","v":3.17},{"f":38.5,"p":"S12","m":"Measured","v":3.1},{"f":38.75,"p":"S12","m":"Measured","v":3.02},{"f":39,"p":"S12","m":"Measured","v":2.95},{"f":39.25,"p":"S12","m":"Measured","v":2.87},{"f":39.5,"p":"S12","m":"Measured","v":2.8},{"f":39.75,"p":"S12","m":"Measured","v":2.77},{"f":40,"p":"S12","m":"Measured","v":2.75}
],
"fit":[
{"f":0,"p":"S11","m":"IGWO","v":-0.005},{"f":1,"p":"S11","m":"IGWO","v":-0.145},{"f":2,"p":"S11","m":"IGWO","v":-0.29},{"f":3,"p":"S11","m":"IGWO","v":-0.435},{"f":4,"p":"S11","m":"IGWO","v":-0.565},{"f":5,"p":"S11","m":"IGWO","v":-0.66},{"f":6,"p":"S11","m":"IGWO","v":-0.7},{"f":7,"p":"S11","m":"IGWO","v":-0.7},{"f":8,"p":"S11","m":"IGWO","v":-0.675},{"f":10,"p":"S11","m":"IGWO","v":-0.61},{"f":12,"p":"S11","m":"IGWO","v":-0.53},{"f":14,"p":"S11","m":"IGWO","v":-0.45},{"f":16,"p":"S11","m":"IGWO","v":-0.38},{"f":18,"p":"S11","m":"IGWO","v":-0.315},{"f":20,"p":"S11","m":"IGWO","v":-0.258},{"f":22,"p":"S11","m":"IGWO","v":-0.208},{"f":25,"p":"S11","m":"IGWO","v":-0.145},{"f":28,"p":"S11","m":"IGWO","v":-0.09},{"f":30,"p":"S11","m":"IGWO","v":-0.057},{"f":32,"p":"S11","m":"IGWO","v":-0.027},{"f":35,"p":"S11","m":"IGWO","v":0.018},{"f":38,"p":"S11","m":"IGWO","v":0.075},{"f":40,"p":"S11","m":"IGWO","v":0.115},
{"f":0,"p":"S11","m":"GWO","v":-0.005},{"f":1,"p":"S11","m":"GWO","v":-0.138},{"f":2,"p":"S11","m":"GWO","v":-0.278},{"f":3,"p":"S11","m":"GWO","v":-0.415},{"f":4,"p":"S11","m":"GWO","v":-0.535},{"f":5,"p":"S11","m":"GWO","v":-0.625},{"f":6,"p":"S11","m":"GWO","v":-0.66},{"f":7,"p":"S11","m":"GWO","v":-0.66},{"f":8,"p":"S11","m":"GWO","v":-0.64},{"f":10,"p":"S11","m":"GWO","v":-0.58},{"f":12,"p":"S11","m":"GWO","v":-0.505},{"f":14,"p":"S11","m":"GWO","v":-0.428},{"f":16,"p":"S11","m":"GWO","v":-0.358},{"f":18,"p":"S11","m":"GWO","v":-0.295},{"f":20,"p":"S11","m":"GWO","v":-0.238},{"f":22,"p":"S11","m":"GWO","v":-0.188},{"f":25,"p":"S11","m":"GWO","v":-0.125},{"f":28,"p":"S11","m":"GWO","v":-0.07},{"f":30,"p":"S11","m":"GWO","v":-0.038},{"f":32,"p":"S11","m":"GWO","v":-0.009},{"f":35,"p":"S11","m":"GWO","v":0.034},{"f":38,"p":"S11","m":"GWO","v":0.087},{"f":40,"p":"S11","m":"GWO","v":0.122},
{"f":0,"p":"S11","m":"GA","v":-0.005},{"f":1,"p":"S11","m":"GA","v":-0.155},{"f":2,"p":"S11","m":"GA","v":-0.315},{"f":3,"p":"S11","m":"GA","v":-0.47},{"f":4,"p":"S11","m":"GA","v":-0.61},{"f":5,"p":"S11","m":"GA","v":-0.705},{"f":6,"p":"S11","m":"GA","v":-0.745},{"f":7,"p":"S11","m":"GA","v":-0.742},{"f":8,"p":"S11","m":"GA","v":-0.72},{"f":10,"p":"S11","m":"GA","v":-0.66},{"f":12,"p":"S11","m":"GA","v":-0.57},{"f":14,"p":"S11","m":"GA","v":-0.482},{"f":16,"p":"S11","m":"GA","v":-0.402},{"f":18,"p":"S11","m":"GA","v":-0.332},{"f":20,"p":"S11","m":"GA","v":-0.27},{"f":22,"p":"S11","m":"GA","v":-0.218},{"f":25,"p":"S11","m":"GA","v":-0.15},{"f":28,"p":"S11","m":"GA","v":-0.092},{"f":30,"p":"S11","m":"GA","v":-0.058},{"f":32,"p":"S11","m":"GA","v":-0.027},{"f":35,"p":"S11","m":"GA","v":0.017},{"f":38,"p":"S11","m":"GA","v":0.073},{"f":40,"p":"S11","m":"GA","v":0.118},
{"f":0,"p":"S22","m":"IGWO","v":-0.005},{"f":1,"p":"S22","m":"IGWO","v":-0.12},{"f":2,"p":"S22","m":"IGWO","v":-0.24},{"f":3,"p":"S22","m":"IGWO","v":-0.35},{"f":4,"p":"S22","m":"IGWO","v":-0.44},{"f":5,"p":"S22","m":"IGWO","v":-0.49},{"f":6,"p":"S22","m":"IGWO","v":-0.505},{"f":7,"p":"S22","m":"IGWO","v":-0.505},{"f":8,"p":"S22","m":"IGWO","v":-0.492},{"f":10,"p":"S22","m":"IGWO","v":-0.465},{"f":12,"p":"S22","m":"IGWO","v":-0.435},{"f":14,"p":"S22","m":"IGWO","v":-0.405},{"f":16,"p":"S22","m":"IGWO","v":-0.378},{"f":18,"p":"S22","m":"IGWO","v":-0.352},{"f":20,"p":"S22","m":"IGWO","v":-0.328},{"f":22,"p":"S22","m":"IGWO","v":-0.308},{"f":25,"p":"S22","m":"IGWO","v":-0.283},{"f":28,"p":"S22","m":"IGWO","v":-0.263},{"f":30,"p":"S22","m":"IGWO","v":-0.252},{"f":32,"p":"S22","m":"IGWO","v":-0.242},{"f":35,"p":"S22","m":"IGWO","v":-0.232},{"f":38,"p":"S22","m":"IGWO","v":-0.222},{"f":40,"p":"S22","m":"IGWO","v":-0.216},
{"f":0,"p":"S22","m":"GWO","v":-0.005},{"f":1,"p":"S22","m":"GWO","v":-0.13},{"f":2,"p":"S22","m":"GWO","v":-0.262},{"f":3,"p":"S22","m":"GWO","v":-0.385},{"f":4,"p":"S22","m":"GWO","v":-0.485},{"f":5,"p":"S22","m":"GWO","v":-0.548},{"f":6,"p":"S22","m":"GWO","v":-0.572},{"f":7,"p":"S22","m":"GWO","v":-0.572},{"f":8,"p":"S22","m":"GWO","v":-0.56},{"f":10,"p":"S22","m":"GWO","v":-0.515},{"f":12,"p":"S22","m":"GWO","v":-0.472},{"f":14,"p":"S22","m":"GWO","v":-0.432},{"f":16,"p":"S22","m":"GWO","v":-0.393},{"f":18,"p":"S22","m":"GWO","v":-0.357},{"f":20,"p":"S22","m":"GWO","v":-0.322},{"f":22,"p":"S22","m":"GWO","v":-0.292},{"f":25,"p":"S22","m":"GWO","v":-0.255},{"f":28,"p":"S22","m":"GWO","v":-0.226},{"f":30,"p":"S22","m":"GWO","v":-0.208},{"f":32,"p":"S22","m":"GWO","v":-0.192},{"f":35,"p":"S22","m":"GWO","v":-0.174},{"f":38,"p":"S22","m":"GWO","v":-0.157},{"f":40,"p":"S22","m":"GWO","v":-0.148},
{"f":0,"p":"S22","m":"GA","v":-0.005},{"f":1,"p":"S22","m":"GA","v":-0.12},{"f":2,"p":"S22","m":"GA","v":-0.238},{"f":3,"p":"S22","m":"GA","v":-0.345},{"f":4,"p":"S22","m":"GA","v":-0.435},{"f":5,"p":"S22","m":"GA","v":-0.49},{"f":6,"p":"S22","m":"GA","v":-0.505},{"f":7,"p":"S22","m":"GA","v":-0.507},{"f":8,"p":"S22","m":"GA","v":-0.495},{"f":10,"p":"S22","m":"GA","v":-0.46},{"f":12,"p":"S22","m":"GA","v":-0.41},{"f":14,"p":"S22","m":"GA","v":-0.36},{"f":16,"p":"S22","m":"GA","v":-0.322},{"f":18,"p":"S22","m":"GA","v":-0.292},{"f":20,"p":"S22","m":"GA","v":-0.264},{"f":22,"p":"S22","m":"GA","v":-0.238},{"f":25,"p":"S22","m":"GA","v":-0.2},{"f":28,"p":"S22","m":"GA","v":-0.163},{"f":30,"p":"S22","m":"GA","v":-0.142},{"f":32,"p":"S22","m":"GA","v":-0.122},{"f":35,"p":"S22","m":"GA","v":-0.1},{"f":38,"p":"S22","m":"GA","v":-0.078},{"f":40,"p":"S22","m":"GA","v":-0.066},
{"f":0,"p":"S21","m":"IGWO","v":0.02},{"f":1,"p":"S21","m":"IGWO","v":1.75},{"f":2,"p":"S21","m":"IGWO","v":3.45},{"f":3,"p":"S21","m":"IGWO","v":5.0},{"f":4,"p":"S21","m":"IGWO","v":6.3},{"f":5,"p":"S21","m":"IGWO","v":7.25},{"f":6,"p":"S21","m":"IGWO","v":7.72},{"f":7,"p":"S21","m":"IGWO","v":7.78},{"f":8,"p":"S21","m":"IGWO","v":7.6},{"f":10,"p":"S21","m":"IGWO","v":7.15},{"f":12,"p":"S21","m":"IGWO","v":6.5},{"f":14,"p":"S21","m":"IGWO","v":5.85},{"f":16,"p":"S21","m":"IGWO","v":5.3},{"f":18,"p":"S21","m":"IGWO","v":4.85},{"f":20,"p":"S21","m":"IGWO","v":4.45},{"f":22,"p":"S21","m":"IGWO","v":4.1},{"f":25,"p":"S21","m":"IGWO","v":3.6},{"f":28,"p":"S21","m":"IGWO","v":3.15},{"f":30,"p":"S21","m":"IGWO","v":2.9},{"f":32,"p":"S21","m":"IGWO","v":2.65},{"f":35,"p":"S21","m":"IGWO","v":2.35},{"f":38,"p":"S21","m":"IGWO","v":2.08},{"f":40,"p":"S21","m":"IGWO","v":1.93},
{"f":0,"p":"S21","m":"GWO","v":0.02},{"f":1,"p":"S21","m":"GWO","v":1.78},{"f":2,"p":"S21","m":"GWO","v":3.5},{"f":3,"p":"S21","m":"GWO","v":5.05},{"f":4,"p":"S21","m":"GWO","v":6.35},{"f":5,"p":"S21","m":"GWO","v":7.3},{"f":6,"p":"S21","m":"GWO","v":7.78},{"f":7,"p":"S21","m":"GWO","v":7.84},{"f":8,"p":"S21","m":"GWO","v":7.66},{"f":10,"p":"S21","m":"GWO","v":7.2},{"f":12,"p":"S21","m":"GWO","v":6.55},{"f":14,"p":"S21","m":"GWO","v":5.9},{"f":16,"p":"S21","m":"GWO","v":5.35},{"f":18,"p":"S21","m":"GWO","v":4.9},{"f":20,"p":"S21","m":"GWO","v":4.5},{"f":22,"p":"S21","m":"GWO","v":4.15},{"f":25,"p":"S21","m":"GWO","v":3.65},{"f":28,"p":"S21","m":"GWO","v":3.2},{"f":30,"p":"S21","m":"GWO","v":2.95},{"f":32,"p":"S21","m":"GWO","v":2.7},{"f":35,"p":"S21","m":"GWO","v":2.4},{"f":38,"p":"S21","m":"GWO","v":2.12},{"f":40,"p":"S21","m":"GWO","v":1.97},
{"f":0,"p":"S21","m":"GA","v":0.02},{"f":1,"p":"S21","m":"GA","v":1.85},{"f":2,"p":"S21","m":"GA","v":3.65},{"f":3,"p":"S21","m":"GA","v":5.3},{"f":4,"p":"S21","m":"GA","v":6.75},{"f":5,"p":"S21","m":"GA","v":7.8},{"f":6,"p":"S21","m":"GA","v":8.35},{"f":7,"p":"S21","m":"GA","v":8.45},{"f":8,"p":"S21","m":"GA","v":8.35},{"f":10,"p":"S21","m":"GA","v":7.85},{"f":12,"p":"S21","m":"GA","v":7.15},{"f":14,"p":"S21","m":"GA","v":6.4},{"f":16,"p":"S21","m":"GA","v":5.75},{"f":18,"p":"S21","m":"GA","v":5.2},{"f":20,"p":"S21","m":"GA","v":4.72},{"f":22,"p":"S21","m":"GA","v":4.3},{"f":25,"p":"S21","m":"GA","v":3.7},{"f":28,"p":"S21","m":"GA","v":3.2},{"f":30,"p":"S21","m":"GA","v":2.92},{"f":32,"p":"S21","m":"GA","v":2.66},{"f":35,"p":"S21","m":"GA","v":2.33},{"f":38,"p":"S21","m":"GA","v":2.03},{"f":40,"p":"S21","m":"GA","v":1.87},
{"f":0,"p":"S12","m":"IGWO","v":0.02},{"f":1,"p":"S12","m":"IGWO","v":1.3},{"f":2,"p":"S12","m":"IGWO","v":2.55},{"f":3,"p":"S12","m":"IGWO","v":3.6},{"f":4,"p":"S12","m":"IGWO","v":4.35},{"f":5,"p":"S12","m":"IGWO","v":4.8},{"f":6,"p":"S12","m":"IGWO","v":4.96},{"f":7,"p":"S12","m":"IGWO","v":4.97},{"f":8,"p":"S12","m":"IGWO","v":4.9},{"f":10,"p":"S12","m":"IGWO","v":4.7},{"f":12,"p":"S12","m":"IGWO","v":4.5},{"f":14,"p":"S12","m":"IGWO","v":4.3},{"f":16,"p":"S12","m":"IGWO","v":4.12},{"f":18,"p":"S12","m":"IGWO","v":3.96},{"f":20,"p":"S12","m":"IGWO","v":3.82},{"f":22,"p":"S12","m":"IGWO","v":3.7},{"f":25,"p":"S12","m":"IGWO","v":3.53},{"f":28,"p":"S12","m":"IGWO","v":3.38},{"f":30,"p":"S12","m":"IGWO","v":3.3},{"f":32,"p":"S12","m":"IGWO","v":3.22},{"f":35,"p":"S12","m":"IGWO","v":3.12},{"f":38,"p":"S12","m":"IGWO","v":3.04},{"f":40,"p":"S12","m":"IGWO","v":3.0},
{"f":0,"p":"S12","m":"GWO","v":0.02},{"f":1,"p":"S12","m":"GWO","v":1.4},{"f":2,"p":"S12","m":"GWO","v":2.75},{"f":3,"p":"S12","m":"GWO","v":3.9},{"f":4,"p":"S12","m":"GWO","v":4.75},{"f":5,"p":"S12","m":"GWO","v":5.25},{"f":6,"p":"S12","m":"GWO","v":5.43},{"f":7,"p":"S12","m":"GWO","v":5.45},{"f":8,"p":"S12","m":"GWO","v":5.38},{"f":10,"p":"S12","m":"GWO","v":5.1},{"f":12,"p":"S12","m":"GWO","v":4.85},{"f":14,"p":"S12","m":"GWO","v":4.62},{"f":16,"p":"S12","m":"GWO","v":4.4},{"f":18,"p":"S12","m":"GWO","v":4.2},{"f":20,"p":"S12","m":"GWO","v":4.02},{"f":22,"p":"S12","m":"GWO","v":3.85},{"f":25,"p":"S12","m":"GWO","v":3.63},{"f":28,"p":"S12","m":"GWO","v":3.43},{"f":30,"p":"S12","m":"GWO","v":3.32},{"f":32,"p":"S12","m":"GWO","v":3.22},{"f":35,"p":"S12","m":"GWO","v":3.1},{"f":38,"p":"S12","m":"GWO","v":2.99},{"f":40,"p":"S12","m":"GWO","v":2.94},
{"f":0,"p":"S12","m":"GA","v":0.02},{"f":1,"p":"S12","m":"GA","v":1.35},{"f":2,"p":"S12","m":"GA","v":2.65},{"f":3,"p":"S12","m":"GA","v":3.75},{"f":4,"p":"S12","m":"GA","v":4.55},{"f":5,"p":"S12","m":"GA","v":5.0},{"f":6,"p":"S12","m":"GA","v":5.18},{"f":7,"p":"S12","m":"GA","v":5.2},{"f":8,"p":"S12","m":"GA","v":5.12},{"f":10,"p":"S12","m":"GA","v":4.87},{"f":12,"p":"S12","m":"GA","v":4.62},{"f":14,"p":"S12","m":"GA","v":4.4},{"f":16,"p":"S12","m":"GA","v":4.18},{"f":18,"p":"S12","m":"GA","v":3.98},{"f":20,"p":"S12","m":"GA","v":3.8},{"f":22,"p":"S12","m":"GA","v":3.63},{"f":25,"p":"S12","m":"GA","v":3.4},{"f":28,"p":"S12","m":"GA","v":3.2},{"f":30,"p":"S12","m":"GA","v":3.07},{"f":32,"p":"S12","m":"GA","v":2.96},{"f":35,"p":"S12","m":"GA","v":2.82},{"f":38,"p":"S12","m":"GA","v":2.7},{"f":40,"p":"S12","m":"GA","v":2.64}
]
},
"layer":[
{
 "encoding":{
  "x":{"field":"f","type":"quantitative","scale":{"domain":[0,40],"nice":false},
   "axis":{"orient":"bottom","values":[0,2.5,5,7.5,10,12.5,15,17.5,20,22.5,25,27.5,30,32.5,35,37.5,40],"labelExpr":"datum.value%5==0 ? format(datum.value,'d') : ''","tickSize":{"condition":{"test":"datum.value%5!=0","value":-5},"value":-8},"labelPadding":14,"title":"Frequency(GHz)","titleY":40,"titleBaseline":"middle"}},
  "y":{"field":"v","type":"quantitative","scale":{"domain":[-0.8,0.2],"nice":false,"zero":false},
   "axis":{"orient":"left","values":[-0.8,-0.7,-0.6,-0.5,-0.4,-0.3,-0.2,-0.1,0,0.1,0.2],"labelExpr":"abs(round(datum.value*10))%2==0 ? replace(format(datum.value,'.1f'),'\u2212','-') : ''","tickSize":{"condition":{"test":"abs(round(datum.value*10))%2==1","value":-5},"value":-8},"labelPadding":13,"title":"Imag(S₁₁,S₂₂)","titleX":-52,"titleY":189,"titleAngle":270,"titleAlign":"center","titleBaseline":"middle"}}
 },
 "layer":[
  {"data":{"name":"meas"},"transform":[{"filter":"datum.p=='S11'||datum.p=='S22'"}],
   "mark":{"type":"point","filled":false,"size":400,"strokeWidth":0.8,"opacity":0.85},
   "encoding":{
    "color":{"field":"m","type":"nominal","scale":{"domain":["Measured","GA","IGWO","GWO"],"range":["#e53935","#2a2ad2","#000000","#1a1a1a"]},"legend":{"title":null,"orient":"none","legendX":214,"legendY":7}},
    "shape":{"field":"m","type":"nominal","scale":{"domain":["Measured","GA","IGWO","GWO"],"range":["M-0.4,0A0.4,0.4,0,1,1,0.4,0A0.4,0.4,0,1,1,-0.4,0Z","M-2,0L2,0","M-2,0L2,0","M-2,0L2,0"]},"legend":{"title":null}}
   }},
  {"data":{"name":"fit"},"transform":[{"filter":"datum.p=='S11'||datum.p=='S22'"}],
   "mark":{"type":"line","interpolate":"monotone","strokeWidth":1.1},
   "encoding":{
    "color":{"field":"m","type":"nominal","scale":{"domain":["Measured","GA","IGWO","GWO"],"range":["#e53935","#2a2ad2","#000000","#1a1a1a"]},"legend":{"title":null,"orient":"none","legendX":214,"legendY":7}},
    "strokeDash":{"field":"m","type":"nominal","scale":{"domain":["Measured","GA","IGWO","GWO"],"range":[[1,0],[1,0],[1,0],[5,3]]},"legend":{"title":null}},
    "detail":{"field":"p"}
   }},
  {"data":{"values":[{"f":6.05,"v":0.083}]},"mark":{"type":"point","shape":"M-0.314,0A0.314,1,0,1,1,0.314,0A0.314,1,0,1,1,-0.314,0Z","size":2601,"filled":false,"stroke":"black","strokeWidth":1,"opacity":1}},
  {"data":{"values":[{"f":6.09,"v":-0.187}]},"mark":{"type":"point","shape":"M-0.362,0A0.362,1,0,1,1,0.362,0A0.362,1,0,1,1,-0.362,0Z","size":2209,"filled":false,"stroke":"black","strokeWidth":1,"opacity":1}},
  {"data":{"values":[{"f":30.5,"v":-0.03}]},"mark":{"type":"point","shape":"M-0.667,0A0.667,1,0,1,1,0.667,0A0.667,1,0,1,1,-0.667,0Z","size":2025,"filled":false,"stroke":"black","strokeWidth":1,"opacity":1}},
  {"data":{"values":[{"f":34.83,"v":-0.191}]},"mark":{"type":"point","shape":"M-0.5,0A0.5,1,0,1,1,0.5,0A0.5,1,0,1,1,-0.5,0Z","size":6084,"filled":false,"stroke":"black","strokeWidth":1,"opacity":1}},
  {"data":{"values":[{"f":5.88,"f2":9.4,"v":0.154},{"f":6.72,"f2":8.5,"v":-0.117},{"f":30.67,"f2":28.2,"v":0.031},{"f":35.2,"f2":32.1,"v":-0.0855}]},"mark":{"type":"rule","color":"black","strokeWidth":1},"encoding":{"x2":{"field":"f2"}}},
  {"data":{"values":[{"f":9.55,"v":0.154},{"f":8.65,"v":-0.117}]},"mark":{"type":"point","shape":"triangle-right","size":40,"filled":true,"color":"black","opacity":1}},
  {"data":{"values":[{"f":28.05,"v":0.031},{"f":31.95,"v":-0.0855}]},"mark":{"type":"point","shape":"triangle-left","size":40,"filled":true,"color":"black","opacity":1}},
  {"data":{"values":[{"f":11.22,"v":0.141,"t":"S"},{"f":6.05,"v":-0.078,"t":"S"},{"f":28.1,"v":0.067,"t":"S"},{"f":33.36,"v":-0.04,"t":"S"}]},"mark":{"type":"text","font":"Liberation Sans","fontSize":19,"align":"center","baseline":"middle","color":"black"},"encoding":{"text":{"field":"t"}}},
  {"data":{"values":[{"f":7.3,"v":-0.078,"t":"*100"}]},"mark":{"type":"text","font":"Liberation Sans","fontSize":19,"align":"left","baseline":"middle","color":"black"},"encoding":{"text":{"field":"t"}}},
  {"data":{"values":[{"f":12.35,"v":0.11,"t":"21"},{"f":6.88,"v":-0.113,"t":"12"},{"f":29.45,"v":0.041,"t":"11"},{"f":34.58,"v":-0.071,"t":"22"}]},"mark":{"type":"text","font":"Liberation Sans","fontSize":13,"align":"center","baseline":"middle","color":"black"},"encoding":{"text":{"field":"t"}}}
 ]
},
{
 "encoding":{
  "x":{"field":"f","type":"quantitative","scale":{"domain":[0,40],"nice":false},
   "axis":{"orient":"top","values":[0,2.5,5,7.5,10,12.5,15,17.5,20,22.5,25,27.5,30,32.5,35,37.5,40],"labels":false,"title":null,"tickSize":{"condition":{"test":"datum.value%5!=0","value":-5},"value":-8}}},
  "y":{"field":"v","type":"quantitative","scale":{"domain":[-1,8.92],"nice":false,"zero":false},
   "axis":{"orient":"right","values":[-1,0,1,2,3,4,5,6,7,8],"labelExpr":"datum.value%2==0 ? format(datum.value,'d') : ''","tickSize":{"condition":{"test":"datum.value%2!=0","value":-5},"value":-8},"labelPadding":14,"title":"Imag(S₁₂*100,S₂₁)","titleX":51,"titleY":194,"titleAngle":270,"titleAlign":"center","titleBaseline":"middle"}}
 },
 "layer":[
  {"data":{"name":"meas"},"transform":[{"filter":"datum.p=='S21'||datum.p=='S12'"}],
   "mark":{"type":"point","filled":false,"size":400,"strokeWidth":0.8,"opacity":0.85},
   "encoding":{
    "color":{"field":"m","type":"nominal","scale":{"domain":["Measured","GA","IGWO","GWO"],"range":["#e53935","#2a2ad2","#000000","#1a1a1a"]},"legend":{"title":null,"orient":"none","legendX":214,"legendY":7}},
    "shape":{"field":"m","type":"nominal","scale":{"domain":["Measured","GA","IGWO","GWO"],"range":["M-0.4,0A0.4,0.4,0,1,1,0.4,0A0.4,0.4,0,1,1,-0.4,0Z","M-2,0L2,0","M-2,0L2,0","M-2,0L2,0"]},"legend":{"title":null}}
   }},
  {"data":{"name":"fit"},"transform":[{"filter":"datum.p=='S21'||datum.p=='S12'"}],
   "mark":{"type":"line","interpolate":"monotone","strokeWidth":1.1},
   "encoding":{
    "color":{"field":"m","type":"nominal","scale":{"domain":["Measured","GA","IGWO","GWO"],"range":["#e53935","#2a2ad2","#000000","#1a1a1a"]},"legend":{"title":null,"orient":"none","legendX":214,"legendY":7}},
    "strokeDash":{"field":"m","type":"nominal","scale":{"domain":["Measured","GA","IGWO","GWO"],"range":[[1,0],[1,0],[1,0],[5,3]]},"legend":{"title":null}},
    "detail":{"field":"p"}
   }}
 ]
}
],
"resolve":{"scale":{"y":"independent"},"axis":{"x":"independent"}}
}
